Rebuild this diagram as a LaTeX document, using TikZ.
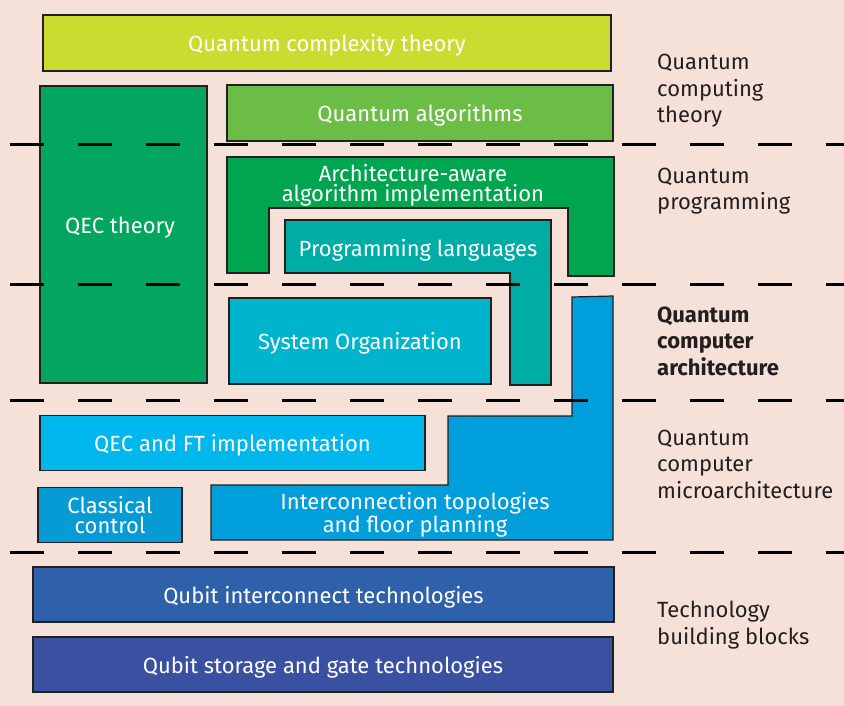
\documentclass[tikz,border=0pt]{standalone}
\usepackage{fontspec}
\setmainfont{Fira Sans}
\definecolor{bgpeach}{HTML}{F5E1D7}
\definecolor{edgedark}{HTML}{231F20}
\definecolor{complexcol}{HTML}{CBDB2F}
\definecolor{qecthcol}{HTML}{02A65E}
\definecolor{algocol}{HTML}{6CBD45}
\definecolor{archcol}{HTML}{00A54F}
\definecolor{langcol}{HTML}{00ADA6}
\definecolor{syscol}{HTML}{00B4CD}
\definecolor{netcol}{HTML}{009FDC}
\definecolor{qecftcol}{HTML}{00B8EE}
\definecolor{ctrlcol}{HTML}{079BD6}
\definecolor{techacol}{HTML}{2F61AB}
\definecolor{techbcol}{HTML}{3A50A0}
\begin{document}
\begin{tikzpicture}[x=1pt, y=-1pt,
  box/.style={draw=edgedark, line width=1.2pt, text=white, align=center, inner sep=0pt,
    font=\fontsize{22}{20}\selectfont},
  onebox/.style={box, text height=18pt, text depth=1pt},
  shapeline/.style={draw=edgedark, line width=1.2pt},
  boxtext/.style={text=white, align=center, inner sep=0pt, font=\fontsize{22}{20}\selectfont},
  layertext/.style={text=edgedark, align=left, anchor=west, inner sep=0pt,
    font=\fontsize{22}{26.5}\selectfont},
  sepline/.style={line width=3pt, dash pattern=on 34pt off 34pt}]
\useasboundingbox (0,0) rectangle (844,706);
\fill[bgpeach] (0,0) rectangle (844,706);
% theory
\node[onebox, fill=complexcol, minimum width=568, minimum height=56] (complex) at (327,43) {Quantum complexity theory};
\filldraw[shapeline, fill=qecthcol] (40,86) rectangle (207,383);
\node[boxtext] (qect) at (120,228) {QEC theory};
\node[onebox, fill=algocol, minimum width=386, minimum height=56] (algo) at (420,113) {Quantum algorithms};
% programming
\filldraw[shapeline, fill=archcol] (227,157) -- (614,157) -- (614,276) -- (568,276) -- (568,208)
  -- (269,208) -- (269,273) -- (227,273) -- cycle;
\node[boxtext] (arch) at (413,185) {Architecture-aware\\algorithm implementation};
\filldraw[shapeline, fill=langcol] (285,220) -- (551,220) -- (551,385) -- (510,385) -- (510,273)
  -- (285,273) -- cycle;
\node[boxtext] (lang) at (418,250) {Programming languages};
% architecture
\node[onebox, fill=syscol, minimum width=262, minimum height=86] (sysorg) at (360,341) {System Organization};
% microarchitecture
\filldraw[shapeline, fill=netcol] (572,297) -- (613,296) -- (613,540) -- (211,540) -- (211,485)
  -- (448,485) -- (448,416) -- (572,416) -- cycle;
\node[boxtext] (net) at (415,515) {Interconnection topologies\\and floor planning};
\node[onebox, fill=qecftcol, minimum width=385, minimum height=55] (qecft) at (232.5,443) {QEC and FT implementation};
\node[box, fill=ctrlcol, minimum width=144, minimum height=55] (ctrl) at (110,515) {Classical\\control};
% technology
\node[onebox, fill=techacol, minimum width=581, minimum height=55] (techa) at (323.5,594.5) {Qubit interconnect technologies};
\node[onebox, fill=techbcol, minimum width=580, minimum height=55] (techb) at (323,664.5) {Qubit storage and gate technologies};
% layer separators
\foreach \y in {145,284,400,552}
  \draw[sepline] (10,\y) -- (844,\y);
% layer names
\node[layertext] (lyrtheory) at (657,91) {Quantum\\computing\\theory};
\node[layertext] (lyrprog) at (657,191) {Quantum\\programming};
\node[layertext, font=\fontsize{22}{26.5}\selectfont\bfseries] (lyrarch) at (657,341) {Quantum\\computer\\architecture};
\node[layertext] (lyrmicro) at (657,464) {Quantum\\computer\\microarchitecture};
\node[layertext] (lyrtech) at (657,625) {Technology\\building blocks};
\end{tikzpicture}
\end{document}
